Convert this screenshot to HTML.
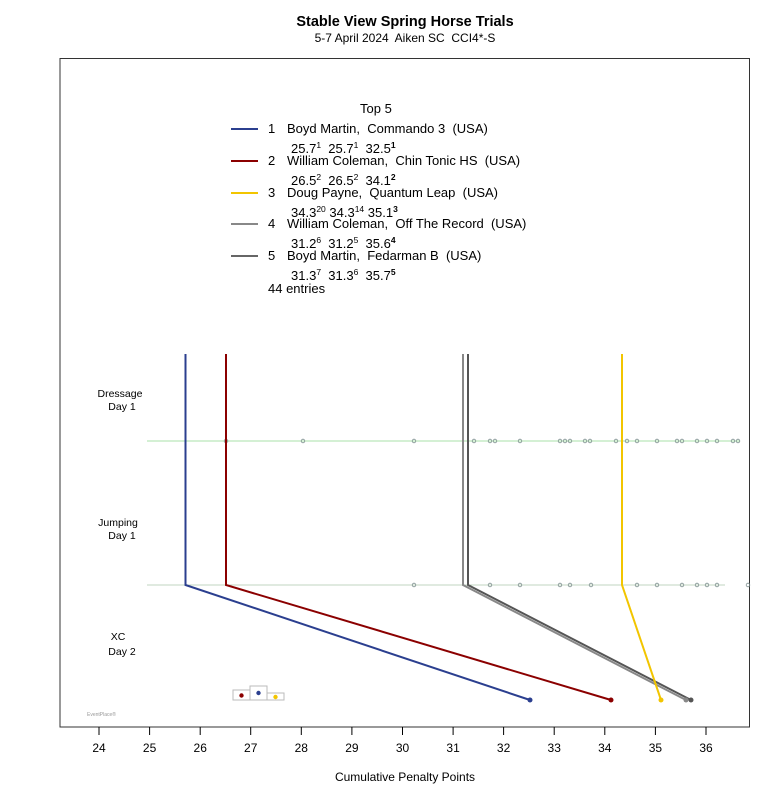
<!DOCTYPE html>
<html><head><meta charset="utf-8"><style>
body{margin:0;background:#fff}
svg{display:block;font-family:"Liberation Sans",sans-serif}
svg text{white-space:pre}
</style></head><body>
<svg width="780" height="800" viewBox="0 0 780 800" xmlns="http://www.w3.org/2000/svg" xml:space="preserve">
<rect width="780" height="800" fill="#fff"/>
<text x="405" y="26" font-size="14.5" font-weight="bold" text-anchor="middle">Stable View Spring Horse Trials</text>
<text x="405" y="42" font-size="12" text-anchor="middle">5-7 April 2024  Aiken SC  CCI4*-S</text>
<rect x="60" y="58.5" width="689.5" height="668.5" fill="none" stroke="#333" stroke-width="1"/>
<g font-size="12" text-anchor="middle">
<g stroke="#000">
<line x1="99" y1="727" x2="99" y2="735"/><line x1="149.6" y1="727" x2="149.6" y2="735"/><line x1="200.2" y1="727" x2="200.2" y2="735"/><line x1="250.7" y1="727" x2="250.7" y2="735"/><line x1="301.3" y1="727" x2="301.3" y2="735"/><line x1="351.9" y1="727" x2="351.9" y2="735"/><line x1="402.5" y1="727" x2="402.5" y2="735"/><line x1="453.1" y1="727" x2="453.1" y2="735"/><line x1="503.6" y1="727" x2="503.6" y2="735"/><line x1="554.2" y1="727" x2="554.2" y2="735"/><line x1="604.8" y1="727" x2="604.8" y2="735"/><line x1="655.4" y1="727" x2="655.4" y2="735"/><line x1="706" y1="727" x2="706" y2="735"/>
</g>
<text x="99" y="752">24</text><text x="149.6" y="752">25</text><text x="200.2" y="752">26</text><text x="250.7" y="752">27</text><text x="301.3" y="752">28</text><text x="351.9" y="752">29</text><text x="402.5" y="752">30</text><text x="453.1" y="752">31</text><text x="503.6" y="752">32</text><text x="554.2" y="752">33</text><text x="604.8" y="752">34</text><text x="655.4" y="752">35</text><text x="706" y="752">36</text>
<text x="405" y="781">Cumulative Penalty Points</text>
</g>
<g font-size="10.5" text-anchor="middle">
<text x="120" y="397">Dressage</text><text x="122" y="410">Day 1</text>
<text x="118" y="526">Jumping</text><text x="122" y="539">Day 1</text>
<text x="118" y="640">XC</text><text x="122" y="655">Day 2</text>
</g>
<g font-size="13">
<text x="360" y="113">Top 5</text>
<line x1="231" y1="129" x2="258" y2="129" stroke="#2B3F8F" stroke-width="2"/>
<line x1="231" y1="161" x2="258" y2="161" stroke="#8B0000" stroke-width="2"/>
<line x1="231" y1="193" x2="258" y2="193" stroke="#F2C500" stroke-width="2"/>
<line x1="231" y1="224" x2="258" y2="224" stroke="#888" stroke-width="2"/>
<line x1="231" y1="256" x2="258" y2="256" stroke="#666" stroke-width="2"/>
<text x="268" y="133">1</text><text x="287" y="133">Boyd Martin,  Commando 3  (USA)</text>
<text x="291" y="153">25.7<tspan font-size="8.5" dy="-5">1</tspan><tspan dy="5">  25.7</tspan><tspan font-size="8.5" dy="-5">1</tspan><tspan dy="5">  32.5</tspan><tspan font-size="8.5" dy="-5" font-weight="bold">1</tspan></text>
<text x="268" y="165">2</text><text x="287" y="165">William Coleman,  Chin Tonic HS  (USA)</text>
<text x="291" y="185">26.5<tspan font-size="8.5" dy="-5">2</tspan><tspan dy="5">  26.5</tspan><tspan font-size="8.5" dy="-5">2</tspan><tspan dy="5">  34.1</tspan><tspan font-size="8.5" dy="-5" font-weight="bold">2</tspan></text>
<text x="268" y="197">3</text><text x="287" y="197">Doug Payne,  Quantum Leap  (USA)</text>
<text x="291" y="217">34.3<tspan font-size="8.5" dy="-5">20</tspan><tspan dy="5"> 34.3</tspan><tspan font-size="8.5" dy="-5">14</tspan><tspan dy="5"> 35.1</tspan><tspan font-size="8.5" dy="-5" font-weight="bold">3</tspan></text>
<text x="268" y="228">4</text><text x="287" y="228">William Coleman,  Off The Record  (USA)</text>
<text x="291" y="248">31.2<tspan font-size="8.5" dy="-5">6</tspan><tspan dy="5">  31.2</tspan><tspan font-size="8.5" dy="-5">5</tspan><tspan dy="5">  35.6</tspan><tspan font-size="8.5" dy="-5" font-weight="bold">4</tspan></text>
<text x="268" y="260">5</text><text x="287" y="260">Boyd Martin,  Fedarman B  (USA)</text>
<text x="291" y="280">31.3<tspan font-size="8.5" dy="-5">7</tspan><tspan dy="5">  31.3</tspan><tspan font-size="8.5" dy="-5">6</tspan><tspan dy="5">  35.7</tspan><tspan font-size="8.5" dy="-5" font-weight="bold">5</tspan></text>
<text x="268" y="293">44 entries</text>
</g>
<line x1="147" y1="441" x2="740" y2="441" stroke="#a8e0a8" stroke-width="1"/>
<line x1="147" y1="585" x2="725" y2="585" stroke="#c0d4c0" stroke-width="1"/>
<g fill="none" stroke="#7f9090" stroke-width="0.8">
<circle cx="226" cy="441" r="1.8"/><circle cx="303" cy="441" r="1.8"/><circle cx="414" cy="441" r="1.8"/><circle cx="474" cy="441" r="1.8"/><circle cx="490" cy="441" r="1.8"/><circle cx="495" cy="441" r="1.8"/><circle cx="520" cy="441" r="1.8"/><circle cx="560" cy="441" r="1.8"/><circle cx="565" cy="441" r="1.8"/><circle cx="570" cy="441" r="1.8"/><circle cx="585" cy="441" r="1.8"/><circle cx="590" cy="441" r="1.8"/><circle cx="616" cy="441" r="1.8"/><circle cx="627" cy="441" r="1.8"/><circle cx="637" cy="441" r="1.8"/><circle cx="657" cy="441" r="1.8"/><circle cx="677" cy="441" r="1.8"/><circle cx="682" cy="441" r="1.8"/><circle cx="697" cy="441" r="1.8"/><circle cx="707" cy="441" r="1.8"/><circle cx="717" cy="441" r="1.8"/><circle cx="733" cy="441" r="1.8"/><circle cx="738" cy="441" r="1.8"/>
<circle cx="414" cy="585" r="1.8"/><circle cx="490" cy="585" r="1.8"/><circle cx="520" cy="585" r="1.8"/><circle cx="560" cy="585" r="1.8"/><circle cx="570" cy="585" r="1.8"/><circle cx="591" cy="585" r="1.8"/><circle cx="637" cy="585" r="1.8"/><circle cx="657" cy="585" r="1.8"/><circle cx="682" cy="585" r="1.8"/><circle cx="697" cy="585" r="1.8"/><circle cx="707" cy="585" r="1.8"/><circle cx="717" cy="585" r="1.8"/><circle cx="748" cy="585" r="1.8"/>
</g>
<g fill="none" stroke-width="2">
<polyline points="468,354 468,585 691,700" stroke="#555"/>
<polyline points="463,354 463,585 686,700" stroke="#888"/>
<polyline points="622,354 622,585 661,700" stroke="#F2C500"/>
<polyline points="226,354 226,585 611,700" stroke="#8B0000"/>
<polyline points="185.5,354 185.5,585 530,700" stroke="#2B3F8F"/>
</g>
<circle cx="691" cy="700" r="2.5" fill="#555"/><circle cx="686" cy="700" r="2.5" fill="#888"/>
<circle cx="661" cy="700" r="2.5" fill="#F2C500"/><circle cx="611" cy="700" r="2.5" fill="#8B0000"/><circle cx="530" cy="700" r="2.5" fill="#2B3F8F"/>
<g fill="none" stroke="#bbb" stroke-width="1">
<rect x="233" y="690" width="17" height="10"/><rect x="250" y="686" width="17" height="14"/><rect x="267" y="693" width="17" height="7"/>
</g>
<circle cx="241.5" cy="695.5" r="2.2" fill="#8B0000"/><circle cx="258.5" cy="693" r="2.2" fill="#2B3F8F"/><circle cx="275.5" cy="697" r="2.2" fill="#F2C500"/>
<text x="87" y="716" font-size="5" fill="#999">EventPlace®</text>
</svg>
</body></html>
